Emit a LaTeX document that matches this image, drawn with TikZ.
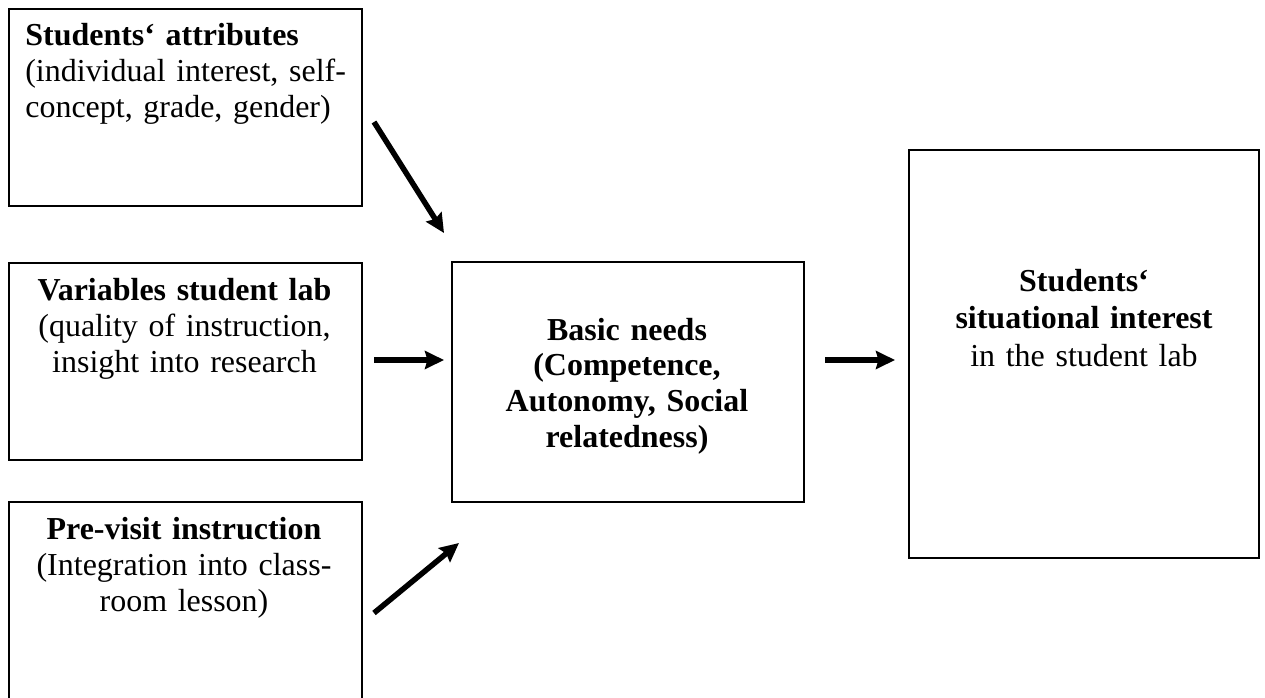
\documentclass[tikz,border=0pt]{standalone}
\usepackage{fontspec}
\setmainfont{Liberation Serif}
\usepackage{tikz}
\usetikzlibrary{arrows.meta}

\begin{document}
\begin{tikzpicture}[x=0.02cm,y=-0.02cm]
\tikzstyle{box} = [draw, line width=0.04cm, inner sep=0, anchor=north west]
\tikzstyle{txt} = [inner sep=0, text width=6.6cm, anchor=base, align=center, font=\fontsize{18.2}{20.5}\selectfont]
\tikzstyle{pfeil} = [line width=0.11cm, -{Stealth[length=0.38cm,width=0.36cm,inset=0.05cm]}]
\useasboundingbox (0,0) rectangle (1265,697);
% boxes on the left
\node[box, minimum width=7.06cm, minimum height=3.94cm] (attr) at (8,8) {};
\node[box, minimum width=7.06cm, minimum height=3.94cm] (var) at (8,262) {};
\node[box, minimum width=7.06cm, minimum height=3.94cm] (pre) at (8,501) {};
% middle and right
\node[box, minimum width=7.04cm, minimum height=4.8cm] (need) at (451,261) {};
\node[box, minimum width=7cm, minimum height=8.16cm] (int) at (908,149) {};
% texts
\node[txt, align=left, anchor=base west] (attrtxt) at (25,45)
    {\textbf{Students‘ attributes}\\(individual interest, self-\\concept, grade, gender)};
\node[txt] (vartxt) at (184.5,300)
    {\textbf{Variables student lab}\\(quality of instruction,\\insight into research};
\node[txt] (pretxt) at (184,539)
    {\textbf{Pre-visit instruction}\\(Integration into class-\\room lesson)};
\node[txt, font=\fontsize{18.2}{20.4}\selectfont\bfseries] (needtxt) at (627,340)
    {Basic needs\\(Competence,\\Autonomy, Social\\relatedness)};
\node[txt, font=\fontsize{18.2}{21.6}\selectfont] (inttxt) at (1084,291)
    {\textbf{Students‘}\\\textbf{situational interest}\\in the student lab};
% arrows
\coordinate (attr-a) at (374,122);
\coordinate (need-a) at (444,233);
\coordinate (var-a) at (374,360);
\coordinate (need-b) at (444,360);
\coordinate (pre-a) at (374,613);
\coordinate (need-c) at (459,543);
\coordinate (need-d) at (825,360);
\coordinate (int-a) at (895,360);
\draw[pfeil] (attr-a) -- (need-a);
\draw[pfeil] (var-a) -- (need-b);
\draw[pfeil] (pre-a) -- (need-c);
\draw[pfeil] (need-d) -- (int-a);
\end{tikzpicture}
\end{document}
